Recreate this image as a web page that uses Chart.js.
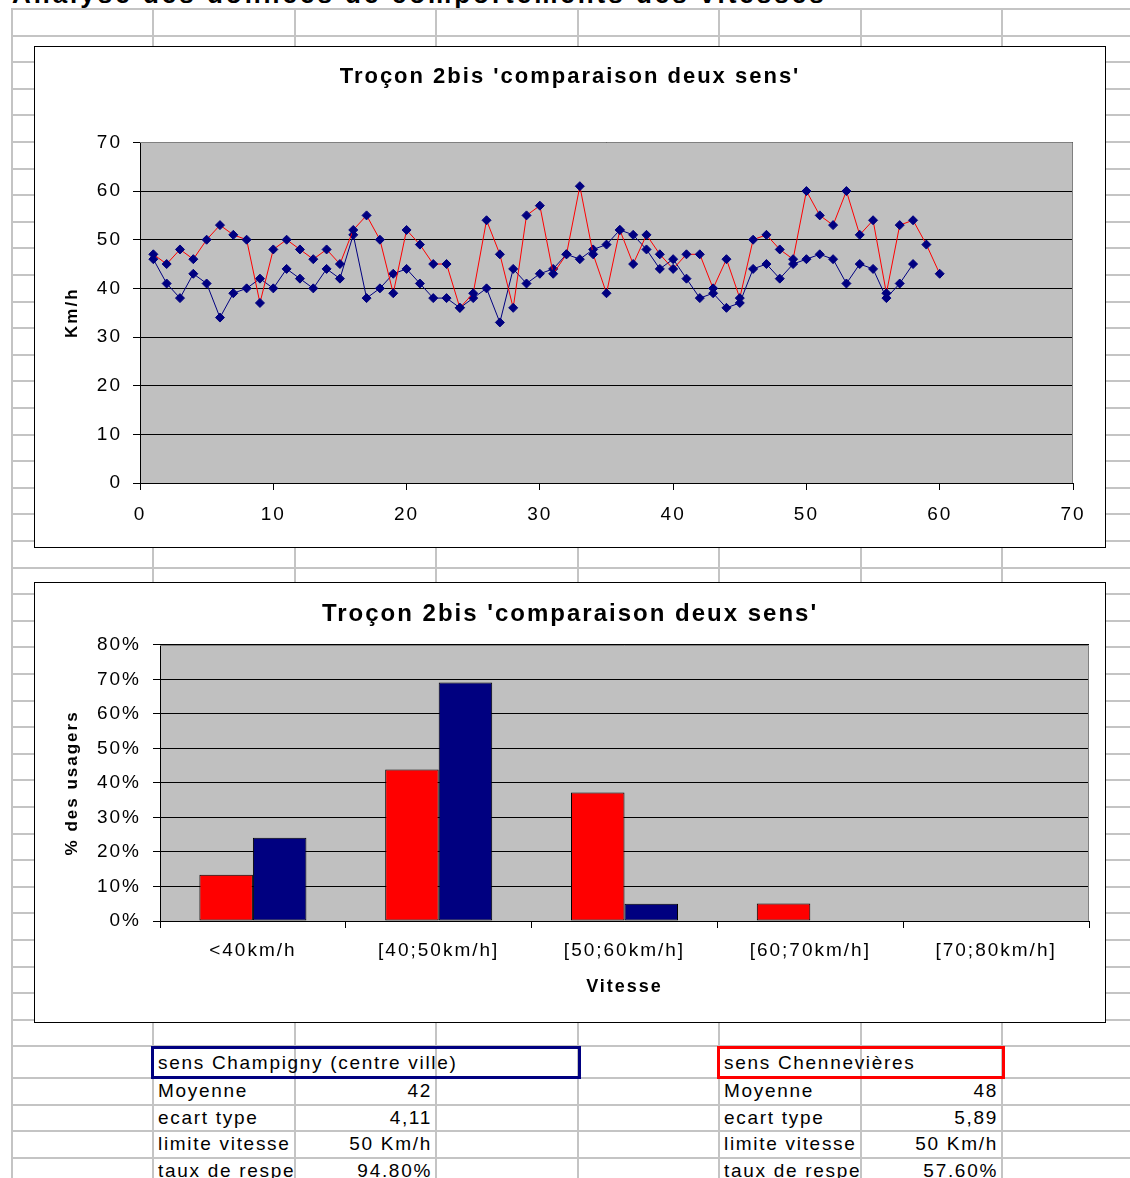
<!DOCTYPE html>
<html lang="fr">
<head>
<meta charset="utf-8">
<title>Troçon 2bis 'comparaison deux sens'</title>
<script src="https://cdn.jsdelivr.net/npm/chart.js@4.4.1/dist/chart.umd.min.js"></script>
<style>
html,body{margin:0;padding:0;background:#fff;}
body{width:1130px;height:1178px;position:relative;overflow:hidden;font-family:"Liberation Sans",Arial,sans-serif;color:#000;}
.vl{position:absolute;width:2px;background:#c4c4c4;top:8px;height:1170px;}
.hl{position:absolute;height:2px;background:#c4c4c4;left:11px;width:1119px;}
#titre{position:absolute;left:12px;top:-19px;font-size:26px;line-height:26px;font-weight:bold;letter-spacing:3px;white-space:nowrap;}
.cadre{position:absolute;border:1px solid #000;background:#fff;box-sizing:border-box;}
.cadre canvas{position:absolute;left:0;top:0;}
.cell{position:absolute;font-size:19px;letter-spacing:1.7px;white-space:nowrap;overflow:hidden;height:26px;line-height:27px;}
.lab{padding-left:5px;box-sizing:border-box;}
.val{text-align:right;padding-right:4px;box-sizing:border-box;}
.entete{position:absolute;height:33px;border:3px solid;box-sizing:border-box;font-size:19px;letter-spacing:1.7px;line-height:27px;padding-left:4px;white-space:nowrap;}
</style>
</head>
<body>
<div id="grille"></div>
<div id="titre">Analyse des données de comportements des vitesses</div>

<div class="cadre" style="left:34px;top:46px;width:1072px;height:502px;">
  <canvas id="courbes" width="1070" height="500"></canvas>
</div>
<div class="cadre" style="left:34px;top:582px;width:1072px;height:441px;">
  <canvas id="classes" width="1070" height="439"></canvas>
</div>

<div class="entete" style="left:151px;top:1046px;width:430px;border-color:#000080;">sens Champigny (centre ville)</div>
<div class="entete" style="left:717px;top:1046px;width:288px;border-color:#ff0000;">sens Chennevières</div>
<div id="tableaux"></div>

<script>
// vitesses relevées (km/h), une valeur par véhicule
const sensChampigny = [46,41,38,43,41,34,39,40,42,40,44,42,40,44,42,51,38,40,43,44,
  41,38,38,36,38,40,33,44,41,43,44,47,46,48,49,52,51,48,44,46,
  42,38,39,36,37,44,45,42,45,46,47,46,41,45,44,38,41,45];
const sensChennevieres = [47,45,48,46,50,53,51,50,37,48,50,48,46,48,45,52,55,50,39,52,
  49,45,45,36,39,54,47,36,55,57,43,47,61,47,39,52,45,51,47,44,
  47,47,40,46,38,50,51,48,46,60,55,53,60,51,54,39,53,54,49,43];

// répartition par classe de vitesse (% des usagers)
const classes = ['<40km/h','[40;50km/h]','[50;60km/h]','[60;70km/h]','[70;80km/h]'];
const pctChennevieres = [13.4, 43.9, 37.2, 5.1, 0];
const pctChampigny = [24.1, 69.1, 5.0, 0, 0];

// tableaux de synthèse
const libelles = ['Moyenne','ecart type','limite vitesse','taux de respect'];
const statsChampigny = ['42','4,11','50 Km/h','94.80%'];
const statsChennevieres = ['48','5,89','50 Km/h','57.60%'];

const police = '"Liberation Sans", Arial, sans-serif';
const NAVY = '#000080';
const ROUGE = '#ff0000';

// quadrillage de la feuille
const grille = document.getElementById('grille');
const colonnes = [11,152,294,435,577,718,860,1001];
colonnes.forEach(x => {
  const d = document.createElement('div');
  d.className = 'vl'; d.style.left = x + 'px';
  grille.appendChild(d);
});
const lignes = [];
for (let n = 0; n < 40; n++) lignes.push(Math.round(8 + 26.6 * n));
lignes.push(1077, 1104, 1130, 1157);
lignes.forEach(y => {
  const d = document.createElement('div');
  d.className = 'hl'; d.style.top = y + 'px';
  grille.appendChild(d);
});

// cellules des tableaux
const tableaux = document.getElementById('tableaux');
function cellule(txt, x, y, w, cls) {
  const d = document.createElement('div');
  d.className = 'cell ' + cls;
  d.textContent = txt;
  d.style.left = x + 'px'; d.style.top = y + 'px'; d.style.width = w + 'px';
  tableaux.appendChild(d);
}
const rangees = [1077, 1104, 1130, 1157];
libelles.forEach((l, i) => {
  cellule(l, 153, rangees[i], 141, 'lab');
  cellule(statsChampigny[i], 295, rangees[i], 141, 'val');
  cellule(l, 719, rangees[i], 141, 'lab');
  cellule(statsChennevieres[i], 861, rangees[i], 141, 'val');
});

// fond gris de la zone de traçage + bordure grise haut/droite
const fondGris = {
  id: 'fondGris',
  beforeDraw(chart) {
    const {ctx, chartArea: a} = chart;
    ctx.letterSpacing = '2px';
    ctx.save();
    ctx.fillStyle = '#c0c0c0';
    ctx.fillRect(a.left, a.top, a.right - a.left, a.bottom - a.top);
    ctx.restore();
  },
  beforeDatasetsDraw(chart) {
    const {ctx, chartArea: a} = chart;
    ctx.save();
    ctx.strokeStyle = '#808080';
    ctx.lineWidth = 1;
    ctx.beginPath();
    ctx.moveTo(a.left, Math.round(a.top) + 0.5);
    ctx.lineTo(Math.round(a.right) - 0.5, Math.round(a.top) + 0.5);
    ctx.lineTo(Math.round(a.right) - 0.5, a.bottom);
    ctx.stroke();
    ctx.restore();
  }
};

// axe vide à droite : réserve la marge sans décentrer le titre
const marge = w => ({
  position: 'right', display: true,
  grid: {display: false}, ticks: {display: false}, border: {display: false},
  afterFit: s => { s.width = w; }
});

Chart.defaults.font.family = police;
Chart.defaults.color = '#000';

const points = arr => arr.map((v, i) => ({x: i + 1, y: v}));

new Chart(document.getElementById('courbes'), {
  type: 'line',
  data: {
    datasets: [
      {
        label: 'sens Chennevières',
        data: points(sensChennevieres),
        borderColor: ROUGE, borderWidth: 1,
        pointStyle: 'rectRot', pointRadius: 4.5,
        pointBackgroundColor: NAVY, pointBorderColor: NAVY, pointBorderWidth: 1
      },
      {
        label: 'sens Champigny (centre ville)',
        data: points(sensChampigny),
        borderColor: NAVY, borderWidth: 1,
        pointStyle: 'rectRot', pointRadius: 4.5,
        pointBackgroundColor: NAVY, pointBorderColor: NAVY, pointBorderWidth: 1
      }
    ]
  },
  options: {
    responsive: false, animation: false, devicePixelRatio: 1,
    layout: {padding: 0},
    plugins: {
      legend: {display: false},
      tooltip: {enabled: false},
      title: {
        display: true,
        text: "Troçon 2bis 'comparaison deux sens'",
        font: {size: 22, weight: 'bold'},
        color: '#000',
        padding: {top: 17, bottom: 52}
      }
    },
    scales: {
      x: {
        type: 'linear', min: 0, max: 70,
        ticks: {stepSize: 10, font: {size: 19}, padding: 13, maxRotation: 0},
        grid: {drawOnChartArea: false, drawTicks: true, tickLength: 7, color: '#000'},
        border: {color: '#000', width: 1},
        afterFit: s => { s.height = 64; }
      },
      y: {
        min: 0, max: 70,
        ticks: {stepSize: 10, font: {size: 19}, padding: 11},
        grid: {color: '#000', tickColor: '#000', tickLength: 7},
        border: {color: '#000', width: 1},
        title: {display: true, text: 'Km/h', font: {size: 17, weight: 'bold'}, padding: {top: 27, bottom: 0}},
        afterFit: s => { s.width = 105; }
      },
      marge: marge(32)
    }
  },
  plugins: [fondGris]
});

new Chart(document.getElementById('classes'), {
  type: 'bar',
  data: {
    labels: classes,
    datasets: [
      {label: 'sens Chennevières', data: pctChennevieres, backgroundColor: ROUGE,
       borderColor: '#000', borderWidth: 1, borderSkipped: false},
      {label: 'sens Champigny (centre ville)', data: pctChampigny, backgroundColor: NAVY,
       borderColor: '#000', borderWidth: 1, borderSkipped: false}
    ]
  },
  options: {
    responsive: false, animation: false, devicePixelRatio: 1,
    layout: {padding: 0},
    datasets: {bar: {categoryPercentage: 0.576, barPercentage: 1}},
    plugins: {
      legend: {display: false},
      tooltip: {enabled: false},
      title: {
        display: true,
        text: "Troçon 2bis 'comparaison deux sens'",
        font: {size: 24, weight: 'bold'},
        color: '#000',
        padding: {top: 17, bottom: 16}
      }
    },
    scales: {
      x: {
        offset: true,
        ticks: {font: {size: 19}, padding: 11, maxRotation: 0},
        grid: {offset: true, drawOnChartArea: false, drawTicks: true, tickLength: 7, color: '#000'},
        border: {color: '#000', width: 1},
        title: {display: true, text: 'Vitesse', font: {size: 18, weight: 'bold'}, padding: {top: 0, bottom: 24}},
        afterFit: s => { s.height = 101; }
      },
      y: {
        min: 0, max: 80,
        ticks: {stepSize: 10, font: {size: 19}, padding: 12, callback: v => v + '%'},
        grid: {color: '#000', tickColor: '#000', tickLength: 7},
        border: {color: '#000', width: 1},
        title: {display: true, text: '% des usagers', font: {size: 17, weight: 'bold'}, padding: {top: 27, bottom: 0}},
        afterFit: s => { s.width = 125; }
      },
      marge: marge(16)
    }
  },
  plugins: [fondGris]
});
</script>
</body>
</html>
